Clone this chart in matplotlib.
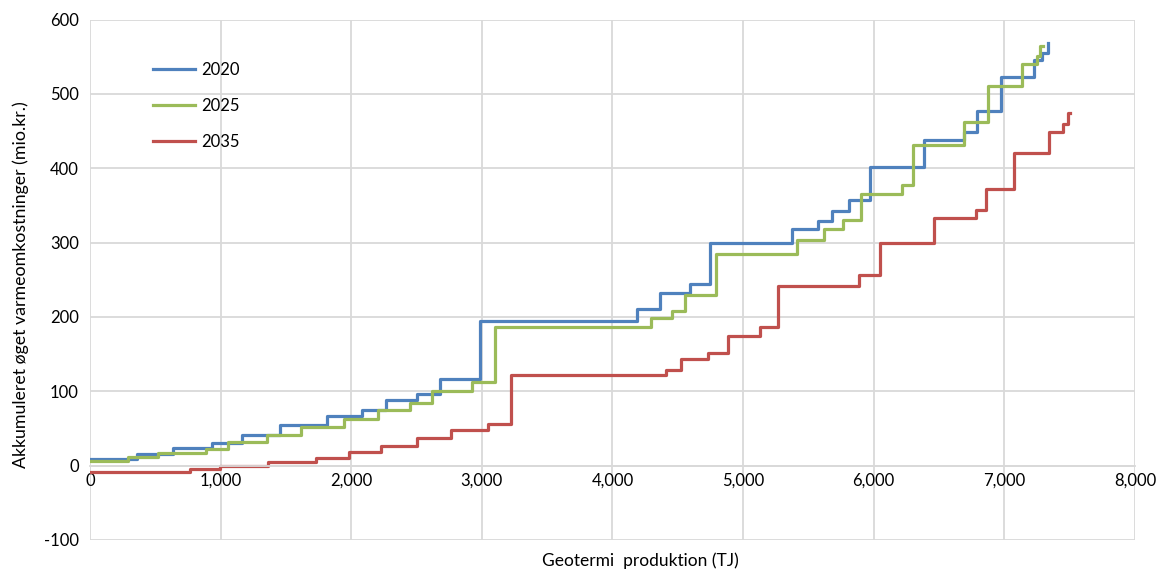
import numpy as np
import matplotlib.pyplot as plt
from matplotlib.ticker import FuncFormatter

plt.rcParams['font.family'] = ['Lato', 'DejaVu Sans']
plt.rcParams['axes.unicode_minus'] = False

# step start positions (TJ) and accumulated cost (mio.kr.)
x2020 = [0, 357, 638, 931, 1160, 1454, 1811, 2080, 2263, 2500, 2678, 2984, 4184, 4362,
         4597, 4750, 5375, 5570, 5677, 5812, 5975, 6388, 6695, 6789, 6975, 7230, 7286, 7332]
y2020 = [9, 15, 24, 31, 41, 54, 67, 75, 88, 97, 116, 195, 210, 232,
         244, 299, 318, 329, 342, 357, 402, 438, 449, 477, 523, 545, 555, 568]
end2020 = 7338

x2025 = [0, 293, 518, 885, 1053, 1352, 1614, 1946, 2204, 2448, 2619, 2928, 3103, 4298,
         4458, 4553, 4790, 5413, 5617, 5764, 5900, 6216, 6300, 6695, 6873, 7134, 7249, 7274]
y2025 = [6, 12, 17, 22, 32, 41, 52, 63, 75, 84, 100, 112, 186, 199,
         208, 229, 284, 304, 318, 331, 366, 377, 431, 462, 510, 540, 551, 564]
end2025 = 7299

x2035 = [0, 765, 995, 1359, 1727, 1984, 2226, 2500, 2762, 3047, 3226, 4407, 4522,
         4732, 4888, 5132, 5265, 5887, 6045, 6458, 6782, 6863, 7073, 7341, 7448, 7486]
y2035 = [-8, -4, -1, 5, 10, 18, 26, 37, 48, 56, 122, 129, 143,
         152, 174, 187, 242, 256, 300, 333, 344, 372, 421, 449, 460, 474]
end2035 = 7500

series = [('2020', x2020, y2020, end2020, '#4F81BD'),
          ('2025', x2025, y2025, end2025, '#9BBB59'),
          ('2035', x2035, y2035, end2035, '#C0504D')]

fig = plt.figure(figsize=(11.6, 5.69), dpi=100)
ax = fig.add_axes([0.0776, 0.051, 0.9008, 0.9147])

for name, xs, ys, xend, col in series:
    xx = list(xs) + [xend]
    yy = list(ys) + [ys[-1]]
    ax.step(xx, yy, where='post', color=col, lw=2.3, label=name)

ax.set_xlim(0, 8000)
ax.set_ylim(-100, 600)
ax.set_xticks(np.arange(0, 8001, 1000))
ax.set_yticks(np.arange(-100, 601, 100))
ax.xaxis.set_major_formatter(FuncFormatter(lambda v, p: f'{int(v):,}'))
ax.grid(True, color='#D9D9D9', lw=1.3)
ax.set_axisbelow(True)
for s in ax.spines.values():
    s.set_visible(False)
ax.spines['bottom'].set_visible(True)
ax.spines['bottom'].set_position(('data', 0))
ax.spines['bottom'].set_color('#D9D9D9')
ax.spines['bottom'].set_linewidth(1.3)
ax.tick_params(axis='both', length=0, labelsize=12, colors='black')
ax.tick_params(axis='x', pad=5)
ax.tick_params(axis='y', pad=8)

fig.text(0.552, 0.0, 'Geotermi  produktion (TJ)', ha='center', va='bottom', fontsize=12.5)
fig.text(0.011, 0.5, 'Akkumuleret øget varmeomkostninger (mio.kr.)', rotation=90,
         ha='left', va='center', fontsize=12.8)

ax.legend(loc='upper left', bbox_to_anchor=(0.046, 0.947), frameon=False, fontsize=12,
          handlelength=2.5, labelspacing=1.2, handletextpad=0.4)

plt.savefig('out.png', dpi=100)
